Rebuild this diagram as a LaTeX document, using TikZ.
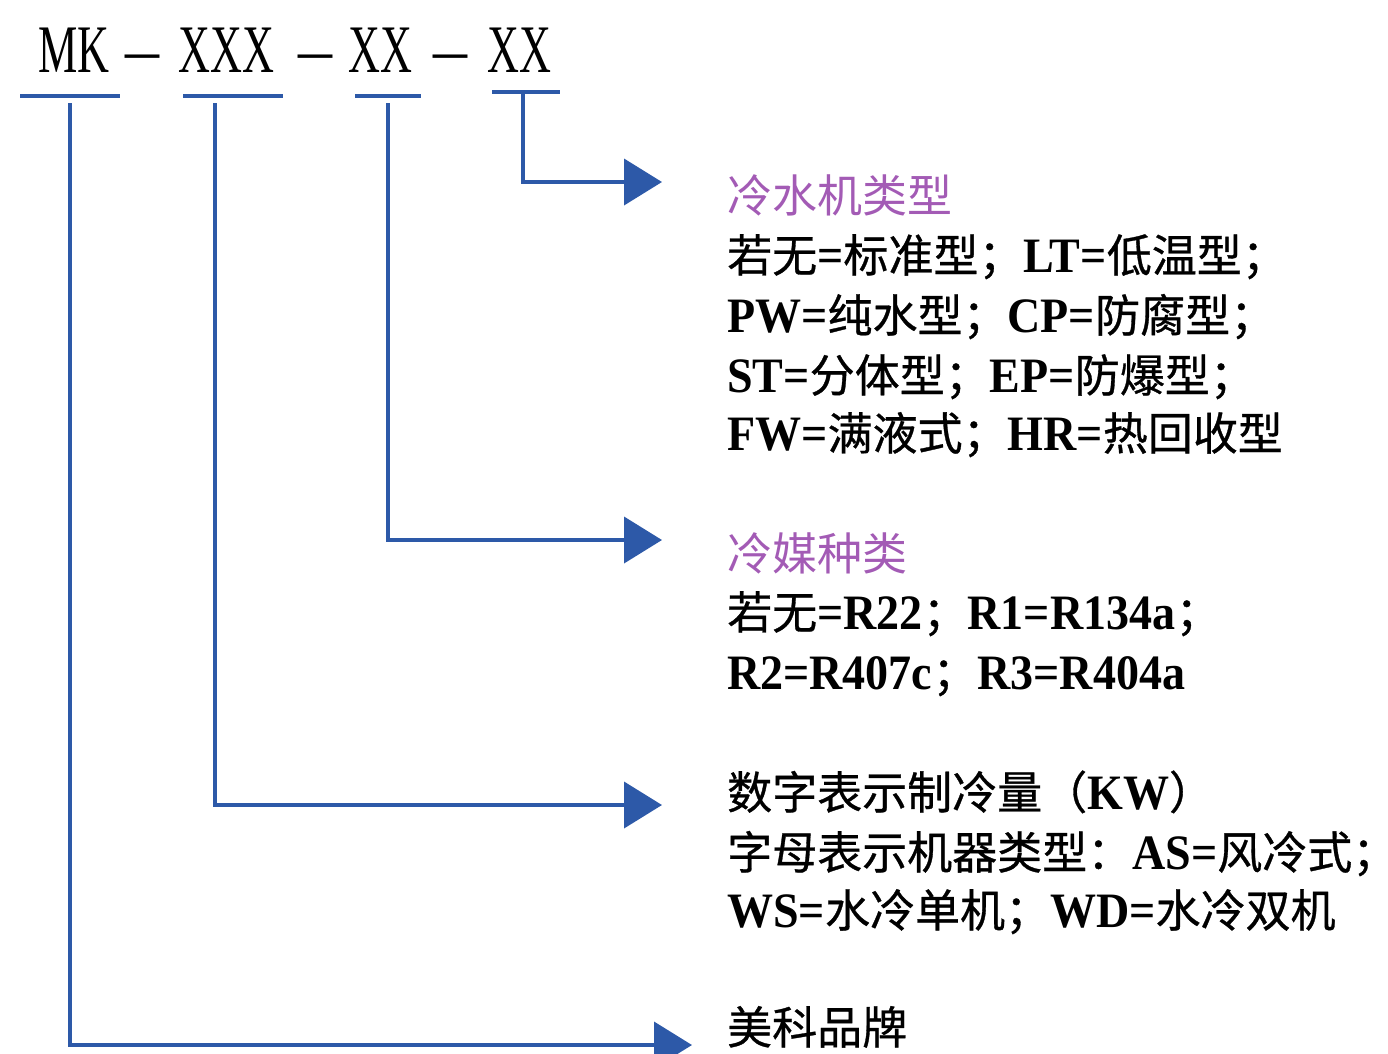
\documentclass[tikz,border=0pt]{standalone}
\usepackage{fontspec}
\setmainfont{Liberation Serif Bold}[Scale=1.1,FakeStretch=0.93]
\newfontfamily\cond{Liberation Serif}[FakeStretch=0.65]
\newfontfamily\plainser{Liberation Serif}
\newfontfamily\cjkt{Noto Sans CJK SC}
\newfontfamily\cjk{Noto Sans CJK SC}[FakeBold=0.7]
\usetikzlibrary{arrows.meta}
\definecolor{lineblue}{HTML}{2D59A8}
\definecolor{titlepurple}{HTML}{A35BB5}
\begin{document}
\begin{tikzpicture}[x=1pt,y=-1pt,
  hdr/.style={anchor=base west,inner sep=0pt,font=\cond\fontsize{68}{68}\selectfont},
  hdash/.style={anchor=base west,inner sep=0pt,font=\plainser\fontsize{68}{68}\selectfont},
  txt/.style={anchor=base west,inner sep=0pt,font=\fontsize{45}{45}\selectfont},
  ttl/.style={txt,text=titlepurple},
  uline/.style={draw=lineblue,line width=4pt},
  conn/.style={draw=lineblue,line width=4pt,-{Triangle[length=38pt,width=46pt]}}]
\useasboundingbox (0,0) rectangle (1388,1053);
% header
\node[hdr] (mk) at (38,72) {MK};
\node[hdash] (d1) at (125,72) {–};
\node[hdr] (x3) at (178,72) {XXX};
\node[hdash] (d2) at (298,72) {–};
\node[hdr] (x2a) at (348,72) {XX};
\node[hdash] (d3) at (433,72) {–};
\node[hdr] (x2b) at (487,72) {XX};
% underlines
\coordinate (u1a) at (20,96); \coordinate (u1b) at (120,96);
\coordinate (u2a) at (183,96); \coordinate (u2b) at (283,96);
\coordinate (u3a) at (355,96); \coordinate (u3b) at (421,96);
\coordinate (u4a) at (492,92); \coordinate (u4b) at (560,92);
\draw[uline] (u1a) -- (u1b);
\draw[uline] (u2a) -- (u2b);
\draw[uline] (u3a) -- (u3b);
\draw[uline] (u4a) -- (u4b);
% connector start points and corners
\coordinate (s1) at (70,103); \coordinate (c1) at (70,1045); \coordinate (e1) at (692,1045);
\coordinate (s2) at (215,103); \coordinate (c2) at (215,805); \coordinate (e2) at (662,805);
\coordinate (s3) at (388,103); \coordinate (c3) at (388,540); \coordinate (e3) at (662,540);
\coordinate (s4) at (523,92); \coordinate (c4) at (523,182); \coordinate (e4) at (662,182);
\draw[conn] (s4) -- (c4) -- (e4);
\draw[conn] (s3) -- (c3) -- (e3);
\draw[conn] (s2) -- (c2) -- (e2);
\draw[conn] (s1) -- (c1) -- (e1);
% texts group 1
\node[ttl] (t1) at (727,212) {{\cjkt 冷水机类型}};
\node[txt] (l11) at (727,272) {{\cjk 若无}={\cjk 标准型；}LT={\cjk 低温型；}};
\node[txt] (l12) at (727,332) {PW={\cjk 纯水型；}CP={\cjk 防腐型；}};
\node[txt] (l13) at (727,392) {ST={\cjk 分体型；}EP={\cjk 防爆型；}};
\node[txt] (l14) at (727,450) {FW={\cjk 满液式；}HR={\cjk 热回收型}};
% group 2
\node[ttl] (t2) at (727,570) {{\cjkt 冷媒种类}};
\node[txt] (l21) at (727,629) {{\cjk 若无}=R22{\cjk ；}R1=R134a{\cjk ；}};
\node[txt] (l22) at (727,689) {R2=R407c{\cjk ；}R3=R404a};
% group 3
\node[txt] (l31) at (727,809) {{\cjk 数字表示制冷量（}KW{\cjk ）}};
\node[txt] (l32) at (727,869) {{\cjk 字母表示机器类型：}AS={\cjk 风冷式\makebox[18pt][l]{；}}};
\node[txt] (l33) at (727,927) {WS={\cjk 水冷单机；}WD={\cjk 水冷双机}};
% group 4
\node[txt] (l41) at (727,1044) {{\cjk 美科品牌}};
\end{tikzpicture}
\end{document}
